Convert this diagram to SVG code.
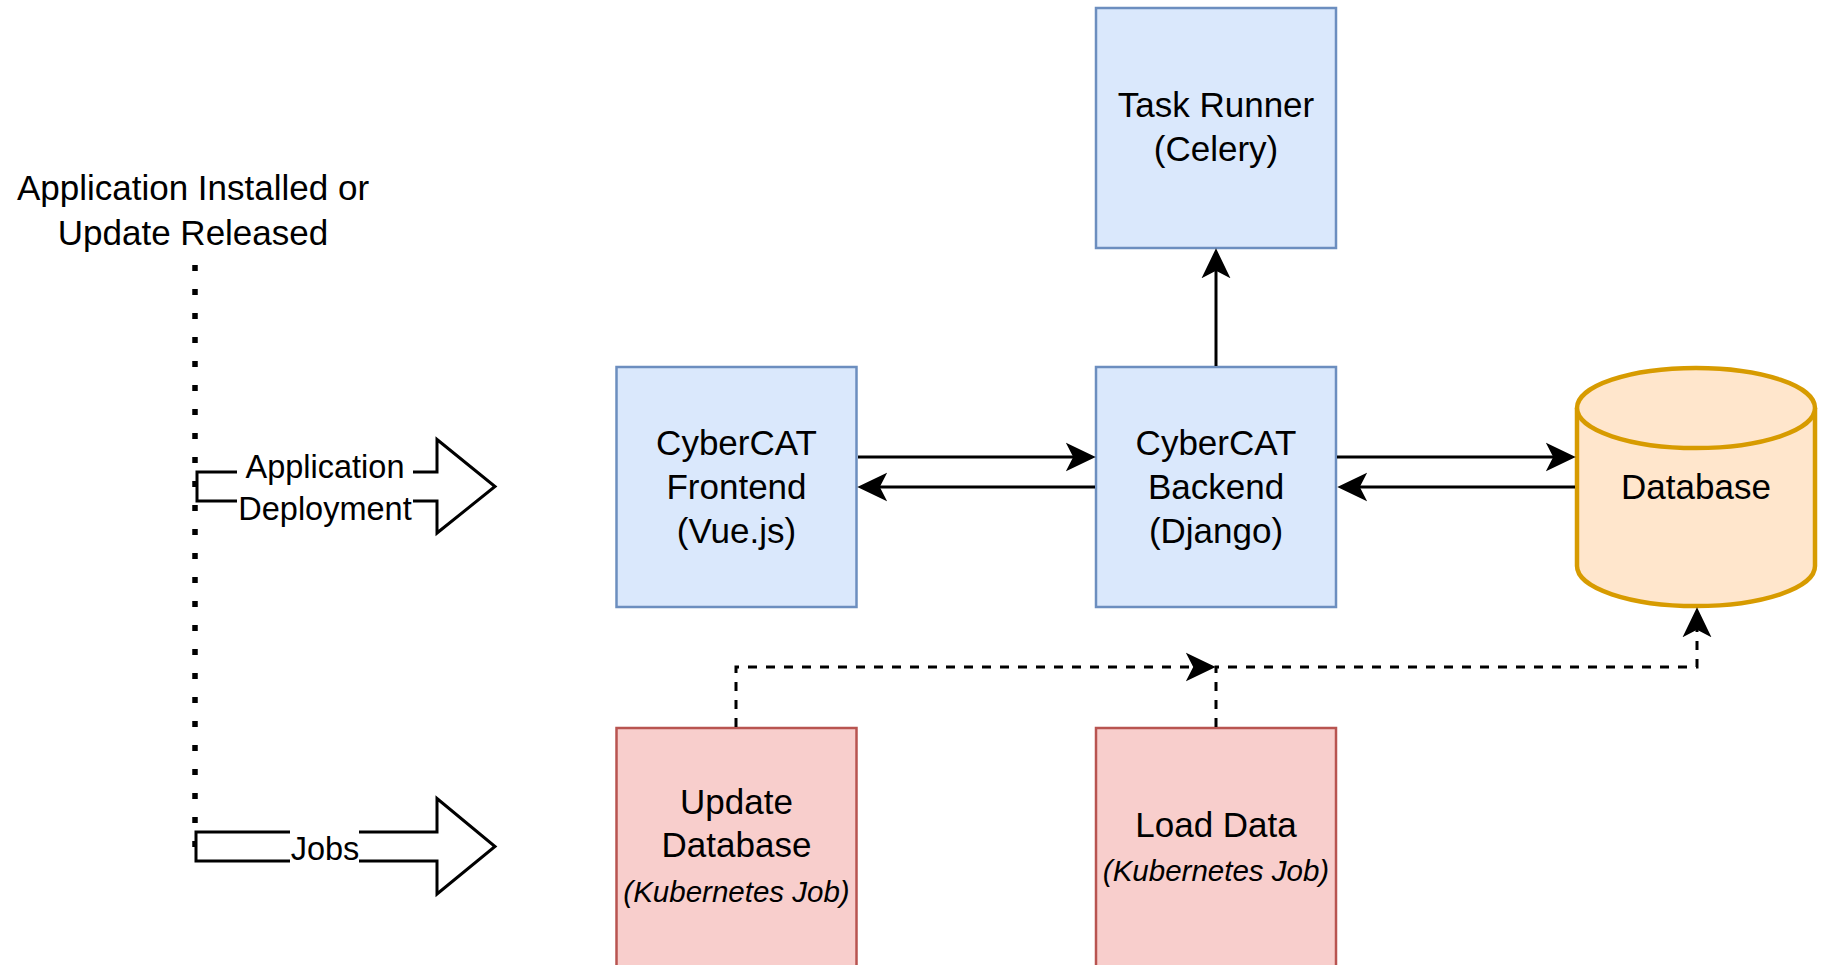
<svg xmlns="http://www.w3.org/2000/svg" width="1824" height="965" viewBox="0 0 1824 965">
<style>
  text { font-family: "Liberation Sans", Arial, Helvetica, sans-serif; fill: #000; text-anchor: middle; }
  .t { font-size: 35px; }
  .lbl { font-size: 32.5px; }
  .it { font-size: 29.5px; font-style: italic; }
  .blue { fill: #dae8fc; stroke: #6c8ebf; stroke-width: 2.5; }
  .red { fill: #f8cecc; stroke: #b85450; stroke-width: 2.5; }
  .cyl { fill: #ffe6cc; stroke: #d79b00; stroke-width: 4.5; }
  .con { fill: none; stroke: #000; stroke-width: 3; }
  .dash { fill: none; stroke: #000; stroke-width: 3; stroke-dasharray: 9 9; }
  .block { fill: #fff; stroke: #000; stroke-width: 3; }
</style>
<defs>
  <marker id="arr" markerUnits="userSpaceOnUse" markerWidth="30" markerHeight="30" viewBox="0 0 28 28" refX="18" refY="14" orient="auto">
    <path d="M0,0.5 L28,14 L0,27.5 L7,14 Z" fill="#000"/>
  </marker>
</defs>
<rect width="1824" height="965" fill="#fff"/>

<g id="trigger">
  <line x1="195" y1="265" x2="195" y2="850" stroke="#000" stroke-width="5.5" stroke-dasharray="6 18"/>
  <text class="t" x="193" y="200">Application Installed or</text>
  <text class="t" x="193" y="245">Update Released</text>
</g>

<g id="app-deployment">
  <polygon class="block" points="197,472 437,472 437,439.5 495,486.5 437,533 437,501 197,501"/>
  <rect x="237" y="450" width="176" height="80" fill="#fff"/>
  <text class="lbl" x="325" y="478">Application</text>
  <text class="lbl" x="325" y="520">Deployment</text>
</g>

<g id="jobs">
  <polygon class="block" points="196,832 437,832 437,798.5 495,846.5 437,894 437,861 196,861"/>
  <rect x="290" y="830" width="69" height="39" fill="#fff"/>
  <text class="lbl" x="325" y="860">Jobs</text>
</g>

<g id="task-runner">
  <rect class="blue" x="1096" y="8" width="240" height="240"/>
  <text class="t" x="1216" y="117">Task Runner</text>
  <text class="t" x="1216" y="161">(Celery)</text>
</g>

<g id="frontend">
  <rect class="blue" x="616.5" y="367" width="240" height="240"/>
  <text class="t" x="736.5" y="455">CyberCAT</text>
  <text class="t" x="736.5" y="499">Frontend</text>
  <text class="t" x="736.5" y="543">(Vue.js)</text>
</g>

<g id="backend">
  <rect class="blue" x="1096" y="367" width="240" height="240"/>
  <text class="t" x="1216" y="455">CyberCAT</text>
  <text class="t" x="1216" y="499">Backend</text>
  <text class="t" x="1216" y="543">(Django)</text>
</g>

<g id="database">
  <path class="cyl" d="M1577,408 A119,40 0 0 1 1815,408 V566 A119,40 0 0 1 1577,566 Z"/>
  <path class="cyl" fill="none" d="M1577,408 A119,40 0 0 0 1815,408"/>
  <text class="t" x="1696" y="499">Database</text>
</g>

<g id="update-database">
  <rect class="red" x="616.5" y="728" width="240" height="260"/>
  <text class="t" x="736.5" y="814">Update</text>
  <text class="t" x="736.5" y="857">Database</text>
  <text class="it" x="736.5" y="902">(Kubernetes Job)</text>
</g>

<g id="load-data">
  <rect class="red" x="1096" y="728" width="240" height="260"/>
  <text class="t" x="1216" y="837">Load Data</text>
  <text class="it" x="1216" y="881">(Kubernetes Job)</text>
</g>

<g id="connectors">
  <path class="con" d="M1216,366 V259" marker-end="url(#arr)"/>
  <path class="con" d="M858,457 H1085" marker-end="url(#arr)"/>
  <path class="con" d="M1095,487 H868" marker-end="url(#arr)"/>
  <path class="con" d="M1337,457 H1565" marker-end="url(#arr)"/>
  <path class="con" d="M1575,487 H1348" marker-end="url(#arr)"/>
  <path class="dash" d="M736,727 V667 H1205" marker-end="url(#arr)"/>
  <path class="dash" d="M1216,727 V667 H1697 V618" marker-end="url(#arr)"/>
</g>
</svg>
